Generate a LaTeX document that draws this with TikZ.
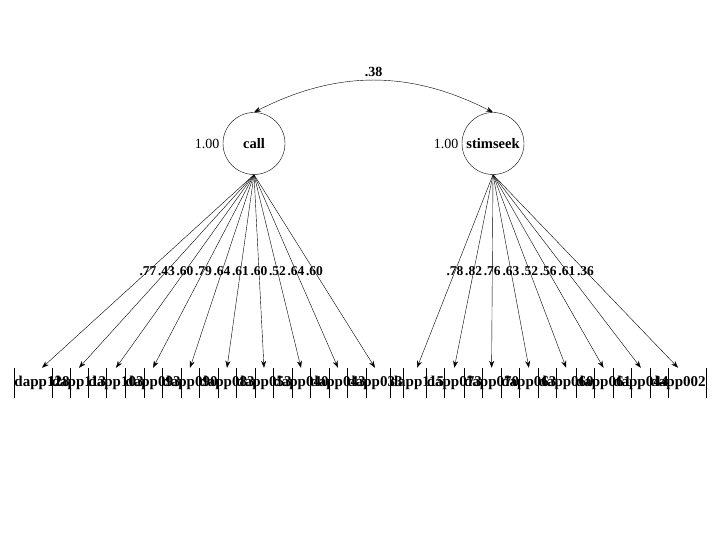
\documentclass[tikz,border=0pt]{standalone}
\usepackage{fontspec}
\setmainfont{Liberation Serif}
\usetikzlibrary{arrows.meta}
\begin{document}
\begin{tikzpicture}[x=1pt,y=-1pt,line width=0.4pt,
  latent/.style={circle,draw,minimum size=62pt,inner sep=0pt,font=\fontsize{14.5}{16}\selectfont\bfseries},
  ind/.style={rectangle,minimum width=38pt,minimum height=30pt,inner sep=0pt,font=\fontsize{15}{16}\selectfont\bfseries},
  load/.style={-{Stealth[length=7pt,width=5pt]}},
  lbl/.style={font=\fontsize{13.5}{15}\selectfont\bfseries,inner sep=0pt},
  var/.style={font=\fontsize{14}{16}\selectfont}]
\useasboundingbox (0,0) rectangle (720,540);
\node[latent] (call) at (254,143.5) {call};
\node[latent] (stim) at (493,143.5) {stimseek};
\node[var,anchor=east] (vc) at (call.west) {1.00};
\node[var,anchor=east] (vs) at (stim.west) {1.00};
\draw[{Stealth[length=7pt,width=5pt]}-{Stealth[length=7pt,width=5pt]}] (call.north) to[bend left=27] node[above,var,font=\fontsize{14}{16}\selectfont\bfseries] (cov) {.38} (stim.north);
\foreach \n [count=\i from 0] in {dapp128,dapp113,dapp103,dapp093,dapp090,dapp083,dapp053,dapp040,dapp043,dapp033}{
  \node[ind] (l\i) at (42+37*\i,383) {\raisebox{-2pt}{\n}};
  \draw (l\i.north west)--(l\i.south west) (l\i.north east)--(l\i.south east);
}
\foreach \n [count=\i from 0] in {dapp115,dapp073,dapp070,dapp063,dapp060,dapp061,dapp044,dapp002}{
  \node[ind] (r\i) at (417+37.3*\i,383) {\raisebox{-2pt}{\n}};
  \draw (r\i.north west)--(r\i.south west) (r\i.north east)--(r\i.south east);
}
\foreach \i/\v in {0/.77,1/.43,2/.60,3/.79,4/.64,5/.61,6/.60,7/.52,8/.64,9/.60}
  \draw[load] (call.south) -- node[lbl] {\v} (l\i.north);
\foreach \i/\v in {0/.78,1/.82,2/.76,3/.63,4/.52,5/.56,6/.61,7/.36}
  \draw[load] (stim.south) -- node[lbl] {\v} (r\i.north);
\end{tikzpicture}
\end{document}
